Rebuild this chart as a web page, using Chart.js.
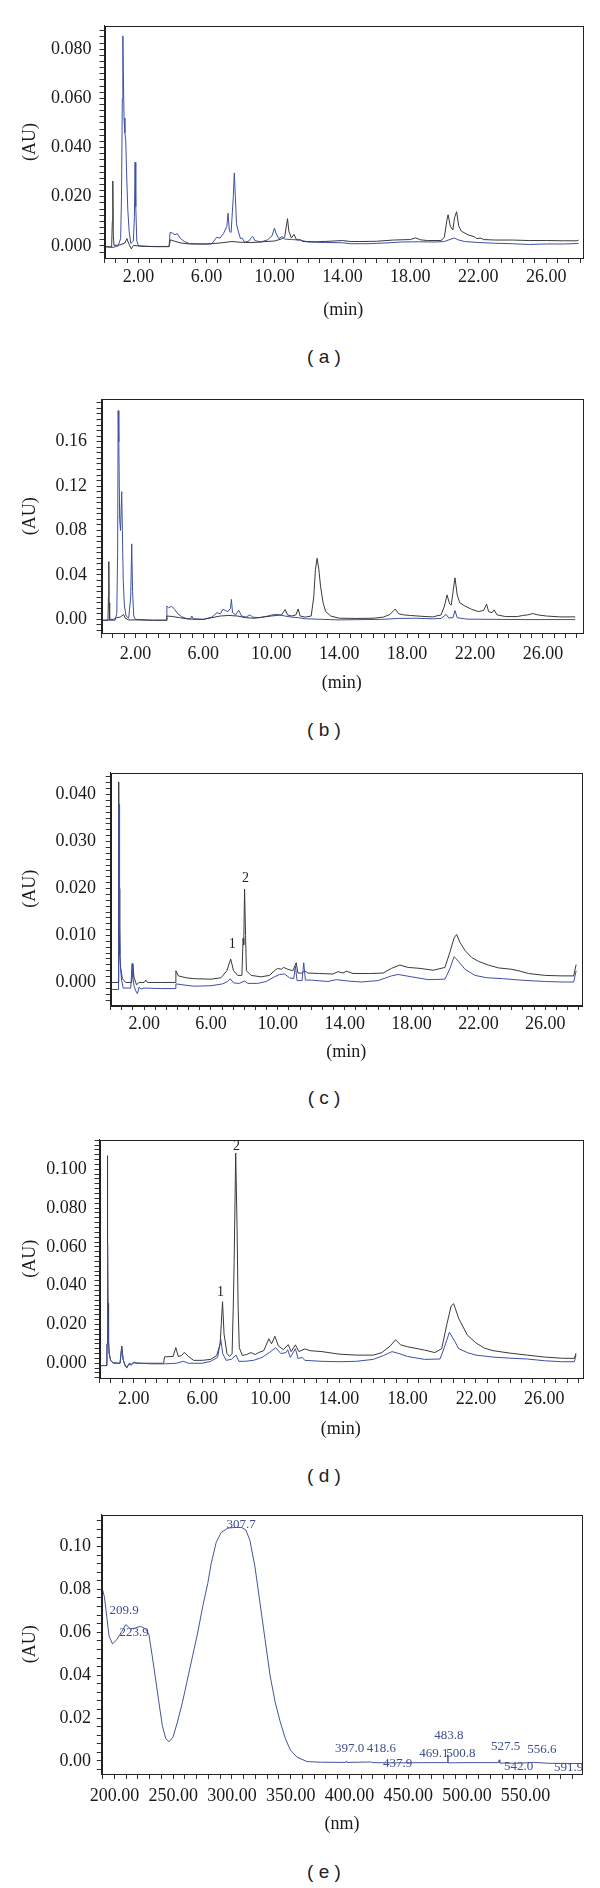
<!DOCTYPE html>
<html>
<head>
<meta charset="utf-8">
<script src="https://cdn.jsdelivr.net/npm/chart.js@4"></script>
<style>
  body { margin: 0; background: #fff; width: 600px; height: 1888px; position: relative; overflow: hidden; }
  canvas { position: absolute; left: 0; }
  .tag { position: absolute; width: 100px; text-align: center; line-height: 22px;
         font: 19px "Liberation Sans", Arial, sans-serif; color: #222; }
</style>
</head>
<body>
<script>
// ---- (a) ----
const aTimeK = [0, 0.42, 0.46, 0.49, 0.52, 0.56, 0.9, 1.2, 1.32, 1.42, 1.58, 1.7, 2.0, 3.0, 3.8, 3.88, 4.1, 4.5, 5.0, 6.0, 6.8, 7.5, 8.0, 8.5, 9.0, 9.5, 10.0, 10.4, 10.6, 10.77, 10.85, 11.0, 11.15, 11.3, 11.55, 11.65, 12.5, 13.5, 14.0, 14.5, 15.0, 16.0, 17.0, 18.0, 18.3, 18.6, 19.0, 19.8, 20.0, 20.15, 20.22, 20.35, 20.5, 20.6, 20.72, 20.85, 21.0, 21.4, 21.75, 21.9, 22.15, 22.3, 23, 24, 25, 26, 27, 27.8, 27.9];
const aAbsK  = [-0.0003, -0.0004, 0.010, 0.0264, 0.004, 0.0002, 0.0004, 0.0012, 0.003, 0.001, -0.0012, 0.0002, 0.0, -0.0003, -0.0003, 0.0025, 0.002, 0.0012, 0.0008, 0.0008, 0.0012, 0.0018, 0.0015, 0.0014, 0.0015, 0.0018, 0.002, 0.0028, 0.0035, 0.0111, 0.006, 0.0032, 0.0047, 0.0025, 0.0025, 0.0018, 0.0017, 0.002, 0.0022, 0.0018, 0.0018, 0.0019, 0.0024, 0.0026, 0.0033, 0.0025, 0.0022, 0.0022, 0.0035, 0.0105, 0.0127, 0.008, 0.0065, 0.0115, 0.0139, 0.008, 0.006, 0.0045, 0.0038, 0.003, 0.0032, 0.0026, 0.0024, 0.0024, 0.0022, 0.0022, 0.0021, 0.0021, 0.0024];
const aTimeB = [0, 0.5, 0.8, 0.95, 1.0, 1.05, 1.08, 1.11, 1.15, 1.2, 1.25, 1.3, 1.37, 1.45, 1.55, 1.7, 1.76, 1.8, 1.84, 1.9, 2.0, 2.5, 3.8, 3.86, 4.0, 4.15, 4.28, 4.45, 4.7, 5.0, 5.5, 6.3, 6.6, 6.8, 7.0, 7.2, 7.27, 7.35, 7.45, 7.58, 7.64, 7.7, 7.77, 7.85, 8.0, 8.1, 8.25, 8.5, 8.65, 8.72, 8.85, 9.2, 9.6, 9.85, 10.0, 10.1, 10.25, 10.45, 10.6, 11.0, 11.5, 12.0, 13.0, 14.0, 14.5, 15.5, 16.5, 17.5, 18.5, 19.5, 20.0, 20.4, 20.6, 20.8, 21.2, 22.0, 23.0, 24.0, 25.0, 26.0, 27.0, 27.9];
const aAbsB  = [-0.0003, -0.0006, 0.0, 0.003, 0.02, 0.06, 0.0854, 0.07, 0.052, 0.046, 0.043, 0.03, 0.015, 0.006, 0.001, 0.002, 0.012, 0.034, 0.016, 0.002, 0.0, -0.0002, -0.0002, 0.0055, 0.0052, 0.0045, 0.005, 0.0032, 0.0018, 0.001, 0.0008, 0.0008, 0.0035, 0.0032, 0.005, 0.008, 0.0133, 0.006, 0.0055, 0.02, 0.0297, 0.02, 0.009, 0.0065, 0.003, 0.0032, 0.0015, 0.002, 0.0035, 0.0039, 0.0022, 0.0016, 0.0025, 0.004, 0.0072, 0.005, 0.003, 0.0038, 0.0028, 0.0026, 0.0024, 0.0016, 0.0014, 0.0013, 0.0009, 0.0009, 0.0012, 0.0016, 0.0017, 0.0016, 0.0018, 0.0028, 0.0032, 0.0025, 0.0018, 0.0014, 0.0011, 0.0009, 0.0006, 0.0008, 0.0008, 0.001];

// ---- (b) ----
const bTimeK = [0, 0.38, 0.41, 0.43, 0.45, 0.48, 0.7, 0.9, 1.1, 1.3, 1.4, 1.6, 2.0, 3.0, 3.8, 3.85, 4.2, 4.6, 5.0, 5.5, 6.0, 6.5, 7.0, 7.5, 8.0, 8.5, 9.0, 9.5, 10.0, 10.3, 10.6, 10.82, 10.95, 11.2, 11.45, 11.58, 11.7, 12.0, 12.35, 12.5, 12.6, 12.7, 12.8, 12.9, 13.05, 13.2, 13.5, 14.0, 15.0, 16.0, 16.6, 17.0, 17.3, 17.5, 17.8, 18.2, 18.8, 19.5, 20.0, 20.2, 20.35, 20.5, 20.6, 20.75, 20.82, 20.95, 21.1, 21.4, 21.8, 22.2, 22.5, 22.68, 22.8, 23.0, 23.12, 23.3, 23.8, 24.5, 24.8, 25.1, 25.4, 25.7, 26.2, 27.0, 27.9];
const bAbsK  = [-0.0008, -0.0008, 0.02, 0.052, 0.015, 0.0, 0.0, 0.0015, 0.002, 0.0044, 0.001, -0.0005, -0.0005, -0.0008, -0.0008, 0.003, 0.0025, 0.0015, 0.0005, 0.0, 0.0, 0.0015, 0.003, 0.0035, 0.003, 0.0015, 0.001, 0.002, 0.003, 0.0035, 0.004, 0.0088, 0.004, 0.003, 0.004, 0.0093, 0.003, 0.002, 0.003, 0.02, 0.045, 0.055, 0.045, 0.03, 0.015, 0.007, 0.003, 0.001, 0.0008, 0.001, 0.002, 0.0045, 0.0093, 0.005, 0.004, 0.0035, 0.0028, 0.0022, 0.004, 0.012, 0.022, 0.014, 0.013, 0.03, 0.0374, 0.022, 0.015, 0.012, 0.009, 0.007, 0.008, 0.0137, 0.007, 0.006, 0.0085, 0.004, 0.0025, 0.0025, 0.0035, 0.004, 0.0052, 0.004, 0.003, 0.0022, 0.0022];
const bTimeB = [0, 0.8, 0.9, 0.95, 0.98, 1.02, 1.07, 1.12, 1.19, 1.23, 1.28, 1.35, 1.45, 1.6, 1.72, 1.78, 1.83, 1.9, 2.0, 3.0, 3.8, 3.85, 3.95, 4.14, 4.3, 4.5, 4.7, 5.0, 5.25, 5.32, 5.4, 6.0, 6.5, 6.8, 7.0, 7.15, 7.3, 7.45, 7.6, 7.65, 7.72, 7.9, 8.08, 8.25, 8.5, 8.75, 8.9, 9.3, 9.8, 10.2, 10.5, 10.8, 11.2, 11.6, 12.0, 13.0, 14.0, 15.0, 16.5, 17.5, 18.5, 19.5, 20.0, 20.3, 20.45, 20.7, 20.82, 20.95, 21.5, 23.0, 25.0, 27.9];
const bAbsB  = [-0.0008, -0.0008, 0.005, 0.06, 0.188, 0.16, 0.09, 0.08, 0.115, 0.08, 0.035, 0.012, 0.003, 0.001, 0.02, 0.068, 0.025, 0.003, 0.0, -0.0008, -0.0008, 0.012, 0.0105, 0.0117, 0.009, 0.005, 0.0025, 0.0008, 0.0005, 0.003, 0.0005, 0.0, 0.002, 0.006, 0.005, 0.009, 0.008, 0.007, 0.01, 0.018, 0.006, 0.004, 0.0082, 0.003, 0.002, 0.004, 0.002, 0.0015, 0.003, 0.0045, 0.004, 0.003, 0.002, 0.0015, 0.0005, 0.0, -0.0005, -0.0003, 0.0, 0.0008, 0.001, 0.0005, 0.0008, 0.0044, 0.0012, 0.0015, 0.0079, 0.0015, 0.0002, 0.0, -0.0002, -0.0002];

// ---- (c) ----
const cTimeK = [0, 0.45, 0.47, 0.49, 0.51, 0.54, 0.6, 0.7, 0.9, 1.25, 1.31, 1.4, 1.55, 1.7, 2.0, 2.1, 2.2, 3.0, 3.85, 3.9, 4.05, 4.5, 5.0, 6.0, 6.6, 6.95, 7.18, 7.35, 7.6, 7.85, 7.92, 7.96, 8.01, 8.07, 8.12, 8.4, 9.0, 9.5, 9.8, 9.98, 10.2, 10.35, 10.6, 10.9, 11.1, 11.2, 11.45, 11.6, 11.8, 12.5, 13.3, 13.6, 13.9, 14.1, 14.5, 15.5, 16.3, 16.8, 17.3, 17.8, 18.5, 19.3, 20.0, 20.3, 20.55, 20.7, 20.9, 21.2, 21.6, 22.0, 22.6, 23.2, 24.0, 24.5, 25.0, 26.0, 27.0, 27.7, 27.85];
const cAbsK  = [0.0, 0.0, 0.02, 0.0427, 0.02, 0.006, 0.003, 0.0008, 0.0, 0.0, 0.004, 0.001, -0.0005, 0.0, 0.0, 0.0005, 0.0, 0.0, 0.0, 0.0025, 0.0014, 0.001, 0.0008, 0.0007, 0.001, 0.0025, 0.005, 0.0025, 0.0015, 0.0015, 0.0094, 0.008, 0.0199, 0.01, 0.0025, 0.0015, 0.0012, 0.0015, 0.0025, 0.003, 0.0028, 0.0032, 0.0028, 0.0025, 0.0042, 0.002, 0.002, 0.0025, 0.002, 0.0019, 0.0018, 0.0023, 0.002, 0.0024, 0.0019, 0.0019, 0.002, 0.003, 0.0037, 0.0032, 0.003, 0.0026, 0.0032, 0.0065, 0.0095, 0.0102, 0.0085, 0.0068, 0.0053, 0.0045, 0.0037, 0.0031, 0.0028, 0.0024, 0.0019, 0.0015, 0.0014, 0.0014, 0.0038];
const cTimeB = [0, 0.45, 0.47, 0.5, 0.53, 0.57, 0.65, 0.75, 1.2, 1.28, 1.33, 1.4, 1.5, 1.6, 1.7, 1.8, 2.0, 3.0, 3.85, 3.9, 4.5, 5.0, 6.0, 6.7, 7.0, 7.15, 7.35, 7.7, 8.0, 8.2, 8.8, 9.3, 9.8, 10.1, 10.4, 10.7, 10.95, 11.05, 11.15, 11.45, 11.55, 11.65, 12.0, 13.0, 13.5, 14.2, 15.0, 16.0, 16.8, 17.2, 18.0, 19.0, 20.0, 20.3, 20.55, 20.8, 21.2, 21.8, 22.5, 23.5, 24.5, 26.0, 27.0, 27.7, 27.85];
const cAbsB  = [-0.0015, -0.0015, 0.015, 0.038, 0.012, 0.004, 0.0005, -0.0012, -0.0012, 0.004, 0.001, -0.0008, -0.0018, -0.0024, -0.001, -0.0014, -0.0012, -0.0013, -0.0013, -0.0003, -0.0006, -0.0008, -0.0007, -0.0003, 0.0002, 0.0008, -0.0001, -0.0002, 0.0003, -0.0002, -0.0002, 0.0002, 0.0012, 0.0017, 0.0018, 0.001, 0.0008, 0.0035, 0.0004, 0.0004, 0.0042, 0.0005, 0.0005, 0.0002, 0.0006, 0.0003, 0.0001, 0.0004, 0.0014, 0.0017, 0.0012, 0.0006, 0.0007, 0.003, 0.0055, 0.0045, 0.0028, 0.0015, 0.001, 0.0008, 0.0005, 0.0002, 0.0001, 0.0001, 0.0025];
const cMarkText = ["1", "2"];
const cMarkTime = [7.28, 8.07];
const cMarkAbs  = [0.0082, 0.0221];

// ---- (d) ----
const dTimeK = [0, 0.43, 0.44, 0.46, 0.48, 0.5, 0.53, 0.57, 0.65, 0.8, 1.2, 1.3, 1.38, 1.5, 1.6, 1.75, 1.85, 2.0, 2.2, 3.0, 3.75, 3.8, 4.3, 4.46, 4.6, 4.8, 4.95, 5.2, 5.5, 6.0, 6.5, 6.85, 7.05, 7.19, 7.28, 7.35, 7.45, 7.6, 7.75, 7.82, 7.87, 7.96, 8.04, 8.1, 8.17, 8.35, 8.6, 8.85, 9.1, 9.3, 9.6, 9.9, 10.05, 10.25, 10.45, 10.75, 11.03, 11.2, 11.45, 11.65, 12.0, 12.3, 13.0, 14.0, 15.0, 16.0, 16.5, 17.0, 17.3, 17.6, 18.0, 19.0, 19.6, 20.0, 20.3, 20.55, 20.7, 21.0, 21.5, 22.0, 22.5, 23.0, 24.0, 25.0, 26.0, 27.0, 27.75, 27.85];
const dAbsK  = [-0.0012, -0.0012, 0.01, 0.107, 0.06, 0.031, 0.012, 0.005, 0.0015, 0.0003, 0.0, 0.0089, 0.002, -0.0015, -0.002, 0.0, -0.0005, 0.0005, 0.0, 0.0, 0.0, 0.0033, 0.0035, 0.0081, 0.0035, 0.004, 0.0056, 0.0035, 0.0015, 0.0015, 0.002, 0.004, 0.01, 0.0317, 0.015, 0.011, 0.005, 0.0035, 0.005, 0.03, 0.052, 0.1084, 0.07, 0.03, 0.008, 0.004, 0.0045, 0.0055, 0.0045, 0.0055, 0.0065, 0.0126, 0.01, 0.0139, 0.009, 0.007, 0.0096, 0.006, 0.0095, 0.006, 0.0074, 0.0065, 0.006, 0.0047, 0.0042, 0.0042, 0.0055, 0.009, 0.0121, 0.0095, 0.0085, 0.0068, 0.0055, 0.0075, 0.02, 0.0295, 0.0307, 0.023, 0.0145, 0.0105, 0.0078, 0.0065, 0.0052, 0.0042, 0.0032, 0.0026, 0.0025, 0.0052];
const dTimeB = [0, 0.43, 0.44, 0.46, 0.49, 0.52, 0.56, 0.65, 0.8, 1.2, 1.3, 1.38, 1.5, 1.6, 1.7, 1.85, 2.0, 3.0, 3.8, 4.5, 4.9, 5.2, 6.0, 6.5, 6.9, 7.09, 7.2, 7.4, 7.7, 7.98, 8.15, 8.5, 9.0, 9.5, 10.0, 10.3, 10.6, 10.9, 11.0, 11.15, 11.45, 11.6, 11.85, 12.0, 13.0, 14.0, 15.0, 16.0, 16.6, 17.1, 17.5, 18.0, 19.0, 19.9, 20.15, 20.45, 20.75, 21.0, 21.5, 22.0, 23.0, 24.0, 25.0, 26.0, 27.0, 27.75, 27.85];
const dAbsB  = [-0.0012, -0.0012, 0.01, 0.0615, 0.03, 0.012, 0.005, 0.0015, 0.0, 0.0, 0.0085, 0.002, -0.001, -0.0025, -0.0005, -0.001, 0.0002, -0.0003, -0.0003, 0.0, 0.001, 0.0, 0.0, 0.001, 0.003, 0.0123, 0.005, 0.0015, 0.002, 0.0042, 0.001, 0.001, 0.0015, 0.003, 0.006, 0.008, 0.005, 0.0055, 0.007, 0.003, 0.0075, 0.0025, 0.003, 0.0015, 0.001, 0.0008, 0.001, 0.002, 0.004, 0.006, 0.005, 0.0035, 0.002, 0.0022, 0.008, 0.016, 0.0115, 0.0075, 0.0055, 0.0042, 0.0032, 0.0026, 0.0022, 0.0013, 0.0008, 0.0008, 0.0042];
const dMarkText = ["1", "2"];
const dMarkTime = [7.07, 8.0];
const dMarkAbs  = [0.0364, 0.1118];

// ---- (e) UV spectrum ----
const eWave = [189.2, 191.4, 193.4, 195.4, 198.3, 202, 206.3, 209.7, 213.5, 217.8, 222.1, 226.4, 229.3, 232.1, 235, 237.8, 240.7, 243.6, 246.4, 249.9, 253.6, 257.9, 262.2, 266.5, 270.8, 275.1, 279.4, 282.3, 286.6, 290.9, 296.6, 302.4, 308.1, 311.9, 315.3, 319.6, 323.9, 328.2, 332.5, 336.8, 341.1, 345.4, 349.7, 355.5, 364, 375.5, 397, 397.5, 398, 418.6, 420, 437.9, 469.1, 483.6, 483.8, 484, 500.8, 527, 527.5, 528, 542, 556.6, 570, 591.9, 598];
const eAbs  = [0.0812, 0.0766, 0.0674, 0.0582, 0.0546, 0.0566, 0.0605, 0.0636, 0.0616, 0.062, 0.0628, 0.0616, 0.059, 0.049, 0.0382, 0.0274, 0.0166, 0.0105, 0.0089, 0.0112, 0.0182, 0.0274, 0.0382, 0.049, 0.0597, 0.072, 0.0828, 0.092, 0.102, 0.1066, 0.1086, 0.1089, 0.1089, 0.1077, 0.1028, 0.0905, 0.0736, 0.0566, 0.0397, 0.0274, 0.0182, 0.0105, 0.0051, 0.0017, -0.0003, -0.0006, -0.0007, 0.0, -0.0007, -0.0005, -0.0008, -0.0009, -0.0008, -0.0008, 0.0029, -0.0009, -0.0008, -0.0008, 0.0005, -0.001, -0.0011, -0.0007, -0.0011, -0.0012, -0.0012];
const eMarkText = ["209.9", "223.9", "307.7", "397.0", "418.6", "437.9", "469.1", "483.8", "500.8", "527.5", "542.0", "556.6", "591.9"];
const eMarkWave = [208.2, 216.7, 307.9, 400.2, 427.3, 441, 471.9, 484.6, 494.9, 532.9, 544, 563.8, 586.6];
const eMarkAbs  = [0.070, 0.060, 0.1101, 0.0059, 0.0059, -0.0012, 0.0033, 0.012, 0.0033, 0.0066, -0.0026, 0.0054, -0.0031];

const BLACK = "#3a3a3a";
const BLUE = "#3e50a4";
const SERIF = '"Liberation Serif", "Times New Roman", serif';
const TICK_FONT = 18;

function pts(xs, ys) {
  return xs.map((x, i) => ({ x: x, y: ys[i] }));
}

function tickList(min, max, step) {
  const out = [];
  for (let i = Math.ceil(min / step - 1e-9); i * step <= max + 1e-9; i++) out.push({ value: i * step });
  return out;
}

function onStep(v, start, step) {
  const k = (v - start) / step;
  return v >= start - 1e-9 && Math.abs(k - Math.round(k)) < 1e-6;
}

// box round the plot area
const frame = {
  id: "frame",
  afterDraw(chart) {
    const a = chart.chartArea, ctx = chart.ctx;
    ctx.save();
    ctx.strokeStyle = "#222";
    ctx.lineWidth = 1;
    ctx.strokeRect(Math.round(a.left) + 0.5, Math.round(a.top) + 0.5,
                   Math.round(a.right - a.left), Math.round(a.bottom - a.top));
    ctx.restore();
  }
};

// peak numbers / wavelength labels placed in data units
const peakText = {
  id: "peakText",
  afterDatasetsDraw(chart, args, opts) {
    if (!opts.text) return;
    const ctx = chart.ctx, sx = chart.scales.x, sy = chart.scales.y;
    ctx.save();
    ctx.font = opts.font;
    ctx.fillStyle = opts.color;
    ctx.textAlign = "center";
    ctx.textBaseline = "middle";
    opts.text.forEach((t, i) => ctx.fillText(t, sx.getPixelForValue(opts.x[i]), sy.getPixelForValue(opts.y[i])));
    ctx.restore();
  }
};

const panels = [
  { top: 21, bottom: 258, left: 104.5, right: 582, xMin: 0, xMax: 28.1, xMinor: 2 / 3, xStart: 2, xStep: 4, xDigits: 2,
    yMin: -0.0049, yMax: 0.0895, yMinor: 0.0025, yStep: 0.02, yDigits: 3, xLabOff: 19.2, yGap: 13, titleOff: 52.5,
    xTitle: "(min)", tag: "( a )", tagY: 356.7,
    series: [{ x: aTimeK, y: aAbsK, color: BLACK }, { x: aTimeB, y: aAbsB, color: BLUE }] },
  { top: 392.5, bottom: 632.3, left: 101.5, right: 582, xMin: 0, xMax: 28.3, xMinor: 2 / 3, xStart: 2, xStep: 4, xDigits: 2,
    yMin: -0.0123, yMax: 0.1982, yMinor: 0.005, yStep: 0.04, yDigits: 2, xLabOff: 21, yGap: 14.5, titleOff: 50,
    xTitle: "(min)", tag: "( b )", tagY: 730,
    series: [{ x: bTimeK, y: bAbsK, color: BLACK }, { x: bTimeB, y: bAbsB, color: BLUE }] },
  { top: 765.5, bottom: 1004, left: 110.7, right: 582, xMin: 0, xMax: 28.2, xMinor: 2 / 3, xStart: 2, xStep: 4, xDigits: 2,
    yMin: -0.0048, yMax: 0.0447, yMinor: 0.00125, yStep: 0.01, yDigits: 3, xLabOff: 19.3, yGap: 14.7, titleOff: 47,
    xTitle: "(min)", tag: "( c )", tagY: 1098.3,
    series: [{ x: cTimeB, y: cAbsB, color: BLUE }, { x: cTimeK, y: cAbsK, color: BLACK }],
    marks: { text: cMarkText, x: cMarkTime, y: cMarkAbs, color: "#222", font: "14px " + SERIF } },
  { top: 1134.5, bottom: 1377.3, left: 99.5, right: 582, xMin: 0, xMax: 28.2, xMinor: 2 / 3, xStart: 2, xStep: 4, xDigits: 2,
    yMin: -0.0076, yMax: 0.1153, yMinor: 0.0025, yStep: 0.02, yDigits: 3, xLabOff: 21, yGap: 12.8, titleOff: 51,
    xTitle: "(min)", tag: "( d )", tagY: 1475.7,
    series: [{ x: dTimeB, y: dAbsB, color: BLUE }, { x: dTimeK, y: dAbsK, color: BLACK }],
    marks: { text: dMarkText, x: dMarkTime, y: dMarkAbs, color: "#222", font: "14px " + SERIF } },
  { top: 1512, bottom: 1774.3, left: 101.8, right: 582, xMin: 189.2, xMax: 598, xMinor: 10, xStart: 200, xStep: 50, xDigits: 2,
    yMin: -0.0061, yMax: 0.1149, yMinor: 0.004, yStep: 0.02, yDigits: 2, xLabOff: 22.4, yGap: 10.8, titleOff: 50.7,
    xTitle: "(nm)", tag: "( e )", tagY: 1871.7,
    series: [{ x: eWave, y: eAbs, color: "#44559a" }],
    marks: { text: eMarkText, x: eMarkWave, y: eMarkAbs, color: "#3d4d8f", font: "13px " + SERIF } }
];

const PAD_TOP = 14, AXIS_H = 66, TICK = 5;

function makePanel(p) {
  const cv = document.createElement("canvas");
  const h = Math.round(p.bottom - p.top) + PAD_TOP + AXIS_H;
  cv.width = 600;
  cv.height = h;
  cv.style.top = Math.round(p.top - PAD_TOP) + "px";
  document.body.appendChild(cv);

  const tag = document.createElement("div");
  tag.className = "tag";
  tag.textContent = p.tag;
  tag.style.left = (324 - 50) + "px";
  tag.style.top = (p.tagY - 11) + "px";
  document.body.appendChild(tag);

  new Chart(cv, {
    type: "line",
    data: {
      datasets: p.series.map(s => ({
        data: pts(s.x, s.y), borderColor: s.color, borderWidth: 1,
        pointRadius: 0, tension: 0, fill: false
      }))
    },
    options: {
      responsive: false,
      animation: false,
      events: [],
      layout: { padding: { top: PAD_TOP, right: 600 - p.right, left: 0, bottom: 0 } },
      plugins: {
        legend: { display: false },
        tooltip: { enabled: false },
        peakText: p.marks || {}
      },
      scales: {
        x: {
          type: "linear", min: p.xMin, max: p.xMax,
          afterFit: s => { s.height = AXIS_H; },
          afterBuildTicks: s => { s.ticks = tickList(p.xMin, p.xMax, p.xMinor); },
          ticks: {
            autoSkip: false, maxRotation: 0, padding: p.xLabOff - TICK_FONT * 0.6 - TICK,
            color: "#1a1a1a", font: { family: SERIF, size: TICK_FONT },
            callback: v => onStep(v, p.xStart, p.xStep) ? v.toFixed(p.xDigits) : ""
          },
          grid: { drawOnChartArea: false, tickLength: TICK, color: "#333" },
          border: { color: "#222" },
          title: {
            display: true, text: p.xTitle, color: "#1a1a1a",
            font: { family: SERIF, size: 18 },
            padding: { top: 0, bottom: AXIS_H - 10.8 - p.titleOff }
          }
        },
        y: {
          type: "linear", min: p.yMin, max: p.yMax,
          afterFit: s => { s.width = p.left; },
          afterBuildTicks: s => { s.ticks = tickList(p.yMin, p.yMax, p.yMinor); },
          ticks: {
            autoSkip: false, padding: p.yGap - TICK,
            color: "#1a1a1a", font: { family: SERIF, size: TICK_FONT },
            callback: v => onStep(v, 0, p.yStep) ? v.toFixed(p.yDigits) : ""
          },
          grid: { drawOnChartArea: false, tickLength: TICK, color: "#333" },
          border: { color: "#222" },
          title: {
            display: true, text: "(AU)", color: "#1a1a1a",
            font: { family: SERIF, size: 18 },
            padding: { top: 19.2, bottom: 0 }
          }
        }
      }
    },
    plugins: [frame, peakText]
  });
}

panels.forEach(makePanel);
</script>
</body>
</html>
